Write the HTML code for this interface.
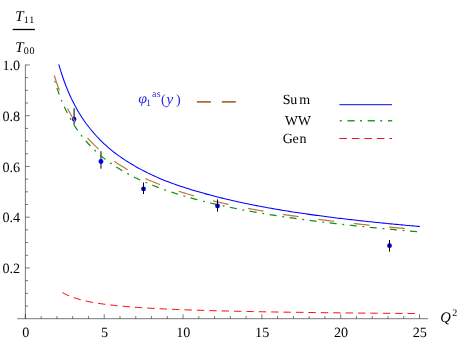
<!DOCTYPE html>
<html><head><meta charset="utf-8"><style>
html,body{margin:0;padding:0;background:#fff;}
svg{display:block;will-change:transform}
text{font-family:"Liberation Serif",serif;text-rendering:geometricPrecision}
</style></head><body>
<svg width="463" height="343" viewBox="0 0 463 343" font-size="14.2" fill="#000">
<rect width="463" height="343" fill="#fff"/>
<path d="M17.2 318.7 H428 M25.4 318.7 V64.65 M25.40 318.70 v-4.5 M41.16 318.70 v-2.7 M56.93 318.70 v-2.7 M72.69 318.70 v-2.7 M88.46 318.70 v-2.7 M104.22 318.70 v-4.5 M119.99 318.70 v-2.7 M135.75 318.70 v-2.7 M151.52 318.70 v-2.7 M167.28 318.70 v-2.7 M183.05 318.70 v-4.5 M198.82 318.70 v-2.7 M214.58 318.70 v-2.7 M230.34 318.70 v-2.7 M246.11 318.70 v-2.7 M261.88 318.70 v-4.5 M277.64 318.70 v-2.7 M293.40 318.70 v-2.7 M309.17 318.70 v-2.7 M324.94 318.70 v-2.7 M340.70 318.70 v-4.5 M356.46 318.70 v-2.7 M372.23 318.70 v-2.7 M388.00 318.70 v-2.7 M403.76 318.70 v-2.7 M419.52 318.70 v-4.5 M25.40 306.01 h2.6 M25.40 293.32 h2.6 M25.40 280.64 h2.6 M25.40 267.95 h4.4 M25.40 255.26 h2.6 M25.40 242.57 h2.6 M25.40 229.89 h2.6 M25.40 217.20 h4.4 M25.40 204.51 h2.6 M25.40 191.82 h2.6 M25.40 179.14 h2.6 M25.40 166.45 h4.4 M25.40 153.76 h2.6 M25.40 141.07 h2.6 M25.40 128.39 h2.6 M25.40 115.70 h4.4 M25.40 103.01 h2.6 M25.40 90.32 h2.6 M25.40 77.64 h2.6 M25.40 64.95 h4.4" stroke="#111" stroke-width="0.56" fill="none"/>
<g><text x="25.70" y="336.6" text-anchor="middle">0</text><text x="104.52" y="336.6" text-anchor="middle">5</text><text x="183.35" y="336.6" text-anchor="middle">10</text><text x="262.18" y="336.6" text-anchor="middle">15</text><text x="341.00" y="336.6" text-anchor="middle">20</text><text x="419.82" y="336.6" text-anchor="middle">25</text><text x="20.2" y="273.00" text-anchor="end">0.2</text><text x="20.2" y="222.25" text-anchor="end">0.4</text><text x="20.2" y="171.50" text-anchor="end">0.6</text><text x="20.2" y="120.75" text-anchor="end">0.8</text><text x="20.2" y="70.00" text-anchor="end">1.0</text></g>
<line x1="74.10" y1="108.30" x2="74.10" y2="124.60" stroke="#000" stroke-width="1"/><circle cx="74.10" cy="119.10" r="2.4" fill="#0000f0"/>
<line x1="100.97" y1="151.20" x2="100.97" y2="168.70" stroke="#000" stroke-width="1"/><circle cx="100.97" cy="161.50" r="2.4" fill="#0000f0"/>

<path d="M62.50 292.57 L64.29 293.57 L66.09 294.48 L67.88 295.32 L69.68 296.09 L71.47 296.80 L73.27 297.46 L75.06 298.07 L76.86 298.64 L78.65 299.17 L80.44 299.67 L82.24 300.14 L84.03 300.58 L85.83 300.99 L87.62 301.38 L89.42 301.75 L91.21 302.10 L93.01 302.44 L94.80 302.75 L96.59 303.06 L98.39 303.34 L100.18 303.62 L101.98 303.88 L103.77 304.13 L105.57 304.37 L107.36 304.60 L109.16 304.82 L110.95 305.03 L112.75 305.24 L114.54 305.43 L116.33 305.62 L118.13 305.80 L119.92 305.98 L121.72 306.15 L123.51 306.31 L125.31 306.47 L127.10 306.62 L128.90 306.77 L130.69 306.91 L132.48 307.05 L134.28 307.18 L136.07 307.31 L137.87 307.44 L139.66 307.56 L141.46 307.68 L143.25 307.80 L145.05 307.91 L146.84 308.02 L148.63 308.12 L150.43 308.23 L152.22 308.33 L154.02 308.43 L155.81 308.52 L157.61 308.62 L159.40 308.71 L161.20 308.80 L162.99 308.88 L164.78 308.97 L166.58 309.05 L168.37 309.13 L170.17 309.21 L171.96 309.29 L173.76 309.36 L175.55 309.44 L177.35 309.51 L179.14 309.58 L180.94 309.65 L182.73 309.72 L184.52 309.79 L186.32 309.85 L188.11 309.91 L189.91 309.98 L191.70 310.04 L193.50 310.10 L195.29 310.16 L197.09 310.22 L198.88 310.27 L200.67 310.33 L202.47 310.38 L204.26 310.44 L206.06 310.49 L207.85 310.54 L209.65 310.59 L211.44 310.64 L213.24 310.69 L215.03 310.74 L216.82 310.79 L218.62 310.83 L220.41 310.88 L222.21 310.93 L224.00 310.97 L225.80 311.01 L227.59 311.06 L229.39 311.10 L231.18 311.14 L232.97 311.18 L234.77 311.22 L236.56 311.26 L238.36 311.30 L240.15 311.34 L241.95 311.38 L243.74 311.42 L245.54 311.45 L247.33 311.49 L249.13 311.53 L250.92 311.56 L252.71 311.60 L254.51 311.63 L256.30 311.66 L258.10 311.70 L259.89 311.73 L261.69 311.76 L263.48 311.80 L265.28 311.83 L267.07 311.86 L268.86 311.89 L270.66 311.92 L272.45 311.95 L274.25 311.98 L276.04 312.01 L277.84 312.04 L279.63 312.07 L281.43 312.10 L283.22 312.12 L285.01 312.15 L286.81 312.18 L288.60 312.21 L290.40 312.23 L292.19 312.26 L293.99 312.28 L295.78 312.31 L297.58 312.34 L299.37 312.36 L301.16 312.39 L302.96 312.41 L304.75 312.43 L306.55 312.46 L308.34 312.48 L310.14 312.51 L311.93 312.53 L313.73 312.55 L315.52 312.57 L317.32 312.60 L319.11 312.62 L320.90 312.64 L322.70 312.66 L324.49 312.68 L326.29 312.71 L328.08 312.73 L329.88 312.75 L331.67 312.77 L333.47 312.79 L335.26 312.81 L337.05 312.83 L338.85 312.85 L340.64 312.87 L342.44 312.89 L344.23 312.91 L346.03 312.93 L347.82 312.94 L349.62 312.96 L351.41 312.98 L353.20 313.00 L355.00 313.02 L356.79 313.04 L358.59 313.05 L360.38 313.07 L362.18 313.09 L363.97 313.11 L365.77 313.12 L367.56 313.14 L369.35 313.16 L371.15 313.17 L372.94 313.19 L374.74 313.21 L376.53 313.22 L378.33 313.24 L380.12 313.26 L381.92 313.27 L383.71 313.29 L385.51 313.30 L387.30 313.32 L389.09 313.33 L390.89 313.35 L392.68 313.36 L394.48 313.38 L396.27 313.39 L398.07 313.41 L399.86 313.42 L401.66 313.44 L403.45 313.45 L405.24 313.47 L407.04 313.48 L408.83 313.49 L410.63 313.51 L412.42 313.52 L414.22 313.53 L416.01 313.55 L417.81 313.56 L419.60 313.57" stroke="#ff0000" stroke-width="1.0" fill="none" stroke-dasharray="7.4 5"/>
<path d="M54.60 80.52 L56.44 86.43 L58.27 91.83 L60.11 96.80 L61.94 101.38 L63.78 105.63 L65.61 109.59 L67.45 113.31 L69.29 116.82 L71.12 120.11 L72.96 123.22 L74.79 126.15 L76.63 128.94 L78.46 131.58 L80.30 134.09 L82.14 136.49 L83.97 138.77 L85.81 140.95 L87.64 143.02 L89.48 145.01 L91.31 146.92 L93.15 148.75 L94.98 150.51 L96.82 152.21 L98.66 153.85 L100.49 155.42 L102.33 156.94 L104.16 158.40 L106.00 159.82 L107.83 161.19 L109.67 162.52 L111.51 163.81 L113.34 165.06 L115.18 166.27 L117.01 167.45 L118.85 168.60 L120.68 169.71 L122.52 170.80 L124.36 171.85 L126.19 172.88 L128.03 173.89 L129.86 174.87 L131.70 175.82 L133.53 176.76 L135.37 177.67 L137.21 178.56 L139.04 179.43 L140.88 180.28 L142.71 181.10 L144.55 181.91 L146.38 182.71 L148.22 183.48 L150.06 184.24 L151.89 184.99 L153.73 185.72 L155.56 186.43 L157.40 187.13 L159.23 187.82 L161.07 188.50 L162.91 189.16 L164.74 189.81 L166.58 190.45 L168.41 191.08 L170.25 191.70 L172.08 192.30 L173.92 192.90 L175.75 193.48 L177.59 194.06 L179.43 194.63 L181.26 195.18 L183.10 195.73 L184.93 196.27 L186.77 196.80 L188.60 197.33 L190.44 197.84 L192.28 198.35 L194.11 198.85 L195.95 199.34 L197.78 199.83 L199.62 200.31 L201.45 200.78 L203.29 201.24 L205.13 201.70 L206.96 202.15 L208.80 202.60 L210.63 203.04 L212.47 203.47 L214.30 203.90 L216.14 204.32 L217.98 204.74 L219.81 205.15 L221.65 205.56 L223.48 205.96 L225.32 206.36 L227.15 206.75 L228.99 207.14 L230.83 207.52 L232.66 207.90 L234.50 208.27 L236.33 208.64 L238.17 209.01 L240.00 209.37 L241.84 209.72 L243.67 210.06 L245.51 210.41 L247.35 210.75 L249.18 211.08 L251.02 211.41 L252.85 211.74 L254.69 212.07 L256.52 212.39 L258.36 212.70 L260.20 213.02 L262.03 213.33 L263.87 213.64 L265.70 213.94 L267.54 214.24 L269.37 214.54 L271.21 214.84 L273.05 215.13 L274.88 215.42 L276.72 215.70 L278.55 215.99 L280.39 216.27 L282.22 216.55 L284.06 216.82 L285.90 217.09 L287.73 217.36 L289.57 217.63 L291.40 217.90 L293.24 218.16 L295.07 218.42 L296.91 218.68 L298.75 218.93 L300.58 219.18 L302.42 219.43 L304.25 219.68 L306.09 219.93 L307.92 220.17 L309.76 220.41 L311.59 220.65 L313.43 220.89 L315.27 221.12 L317.10 221.35 L318.94 221.58 L320.77 221.81 L322.61 222.04 L324.44 222.26 L326.28 222.49 L328.12 222.71 L329.95 222.93 L331.79 223.15 L333.62 223.36 L335.46 223.58 L337.29 223.79 L339.13 224.00 L340.97 224.21 L342.80 224.42 L344.64 224.62 L346.47 224.83 L348.31 225.03 L350.14 225.23 L351.98 225.43 L353.82 225.63 L355.65 225.82 L357.49 226.02 L359.32 226.21 L361.16 226.40 L362.99 226.59 L364.83 226.78 L366.67 226.97 L368.50 227.16 L370.34 227.34 L372.17 227.53 L374.01 227.71 L375.84 227.89 L377.68 228.07 L379.52 228.25 L381.35 228.43 L383.19 228.60 L385.02 228.78 L386.86 228.95 L388.69 229.12 L390.53 229.30 L392.36 229.47 L394.20 229.64 L396.04 229.80 L397.87 229.97 L399.71 230.14 L401.54 230.30 L403.38 230.47 L405.21 230.64 L407.05 230.80 L408.89 230.97 L410.72 231.13 L412.56 231.30 L414.39 231.46 L416.23 231.62 L418.06 231.78 L419.90 231.94" stroke="#109010" stroke-width="1.2" fill="none" stroke-dasharray="1.9 5.55 7.0 5.75" stroke-dashoffset="-0.3"/>
<path d="M54.30 75.46 L56.14 81.19 L57.97 86.47 L59.81 91.35 L61.65 95.89 L63.49 100.12 L65.32 104.08 L67.16 107.79 L69.00 111.28 L70.83 114.58 L72.67 117.69 L74.51 120.65 L76.35 123.45 L78.18 126.12 L80.02 128.66 L81.86 131.08 L83.69 133.40 L85.53 135.61 L87.37 137.74 L89.21 139.78 L91.04 141.74 L92.88 143.62 L94.72 145.44 L96.56 147.18 L98.39 148.87 L100.23 150.50 L102.07 152.07 L103.90 153.59 L105.74 155.06 L107.58 156.49 L109.42 157.87 L111.25 159.21 L113.09 160.51 L114.93 161.78 L116.76 163.00 L118.60 164.20 L120.44 165.36 L122.28 166.49 L124.11 167.59 L125.95 168.66 L127.79 169.70 L129.62 170.72 L131.46 171.72 L133.30 172.69 L135.14 173.63 L136.97 174.56 L138.81 175.46 L140.65 176.34 L142.48 177.21 L144.32 178.05 L146.16 178.88 L148.00 179.69 L149.83 180.48 L151.67 181.27 L153.51 182.04 L155.35 182.79 L157.18 183.53 L159.02 184.26 L160.86 184.97 L162.69 185.66 L164.53 186.35 L166.37 187.02 L168.21 187.68 L170.04 188.33 L171.88 188.97 L173.72 189.60 L175.55 190.21 L177.39 190.82 L179.23 191.41 L181.07 192.00 L182.90 192.58 L184.74 193.14 L186.58 193.70 L188.41 194.25 L190.25 194.79 L192.09 195.32 L193.93 195.85 L195.76 196.36 L197.60 196.87 L199.44 197.37 L201.27 197.87 L203.11 198.35 L204.95 198.83 L206.79 199.31 L208.62 199.77 L210.46 200.23 L212.30 200.69 L214.14 201.14 L215.97 201.58 L217.81 202.01 L219.65 202.44 L221.48 202.87 L223.32 203.29 L225.16 203.70 L227.00 204.11 L228.83 204.50 L230.67 204.90 L232.51 205.29 L234.34 205.67 L236.18 206.05 L238.02 206.42 L239.86 206.80 L241.69 207.16 L243.53 207.52 L245.37 207.88 L247.20 208.23 L249.04 208.58 L250.88 208.93 L252.72 209.27 L254.55 209.61 L256.39 209.94 L258.23 210.27 L260.06 210.60 L261.90 210.92 L263.74 211.24 L265.58 211.55 L267.41 211.87 L269.25 212.18 L271.09 212.48 L272.93 212.78 L274.76 213.08 L276.60 213.38 L278.44 213.67 L280.27 213.96 L282.11 214.25 L283.95 214.54 L285.79 214.82 L287.62 215.10 L289.46 215.37 L291.30 215.65 L293.13 215.92 L294.97 216.19 L296.81 216.45 L298.65 216.71 L300.48 216.97 L302.32 217.22 L304.16 217.48 L305.99 217.73 L307.83 217.98 L309.67 218.22 L311.51 218.46 L313.34 218.70 L315.18 218.94 L317.02 219.18 L318.85 219.42 L320.69 219.65 L322.53 219.88 L324.37 220.11 L326.20 220.33 L328.04 220.56 L329.88 220.78 L331.72 221.00 L333.55 221.22 L335.39 221.44 L337.23 221.65 L339.06 221.87 L340.90 222.08 L342.74 222.29 L344.58 222.50 L346.41 222.70 L348.25 222.91 L350.09 223.11 L351.92 223.31 L353.76 223.51 L355.60 223.71 L357.44 223.91 L359.27 224.10 L361.11 224.30 L362.95 224.49 L364.78 224.68 L366.62 224.87 L368.46 225.06 L370.30 225.24 L372.13 225.43 L373.97 225.61 L375.81 225.80 L377.64 225.98 L379.48 226.16 L381.32 226.34 L383.16 226.51 L384.99 226.69 L386.83 226.86 L388.67 227.04 L390.51 227.21 L392.34 227.38 L394.18 227.55 L396.02 227.72 L397.85 227.88 L399.69 228.05 L401.53 228.21 L403.37 228.38 L405.20 228.54 L407.04 228.70 L408.88 228.86 L410.71 229.02 L412.55 229.18 L414.39 229.34 L416.23 229.49 L418.06 229.65 L419.90 229.80" stroke="#b87840" stroke-width="1.2" fill="none" stroke-dasharray="15.8 19.85"/>
<path d="M58.75 64.31 L60.56 70.41 L62.38 76.01 L64.19 81.20 L66.01 86.02 L67.82 90.51 L69.64 94.71 L71.45 98.65 L73.27 102.35 L75.08 105.84 L76.90 109.14 L78.71 112.26 L80.53 115.22 L82.34 118.03 L84.16 120.71 L85.97 123.26 L87.79 125.69 L89.60 128.02 L91.42 130.27 L93.23 132.43 L95.05 134.51 L96.86 136.50 L98.68 138.42 L100.49 140.27 L102.31 142.05 L104.12 143.77 L105.94 145.43 L107.75 147.04 L109.57 148.59 L111.38 150.09 L113.19 151.55 L115.01 152.96 L116.82 154.33 L118.64 155.65 L120.45 156.94 L122.27 158.20 L124.08 159.42 L125.90 160.60 L127.71 161.76 L129.53 162.88 L131.34 163.99 L133.16 165.07 L134.97 166.13 L136.79 167.17 L138.60 168.18 L140.42 169.16 L142.23 170.13 L144.05 171.07 L145.86 171.99 L147.68 172.89 L149.49 173.77 L151.31 174.64 L153.12 175.48 L154.94 176.31 L156.75 177.12 L158.57 177.92 L160.38 178.70 L162.19 179.44 L164.01 180.17 L165.82 180.89 L167.64 181.59 L169.45 182.28 L171.27 182.96 L173.08 183.62 L174.90 184.27 L176.71 184.91 L178.53 185.54 L180.34 186.16 L182.16 186.77 L183.97 187.37 L185.79 187.95 L187.60 188.53 L189.42 189.10 L191.23 189.66 L193.05 190.21 L194.86 190.75 L196.68 191.29 L198.49 191.81 L200.31 192.33 L202.12 192.85 L203.94 193.37 L205.75 193.87 L207.57 194.37 L209.38 194.86 L211.20 195.35 L213.01 195.82 L214.82 196.29 L216.64 196.76 L218.45 197.22 L220.27 197.67 L222.08 198.12 L223.90 198.56 L225.71 198.99 L227.53 199.42 L229.34 199.85 L231.16 200.27 L232.97 200.68 L234.79 201.09 L236.60 201.49 L238.42 201.89 L240.23 202.28 L242.05 202.67 L243.86 203.05 L245.68 203.43 L247.49 203.81 L249.31 204.18 L251.12 204.54 L252.94 204.90 L254.75 205.26 L256.57 205.61 L258.38 205.96 L260.20 206.31 L262.01 206.65 L263.83 206.99 L265.64 207.32 L267.45 207.65 L269.27 207.98 L271.08 208.30 L272.90 208.62 L274.71 208.94 L276.53 209.25 L278.34 209.56 L280.16 209.87 L281.97 210.18 L283.79 210.48 L285.60 210.78 L287.42 211.07 L289.23 211.37 L291.05 211.66 L292.86 211.94 L294.68 212.23 L296.49 212.51 L298.31 212.79 L300.12 213.07 L301.94 213.33 L303.75 213.59 L305.57 213.85 L307.38 214.11 L309.20 214.36 L311.01 214.62 L312.83 214.87 L314.64 215.11 L316.46 215.36 L318.27 215.60 L320.08 215.84 L321.90 216.08 L323.71 216.32 L325.53 216.56 L327.34 216.79 L329.16 217.02 L330.97 217.25 L332.79 217.48 L334.60 217.70 L336.42 217.92 L338.23 218.15 L340.05 218.36 L341.86 218.58 L343.68 218.80 L345.49 219.01 L347.31 219.22 L349.12 219.44 L350.94 219.64 L352.75 219.85 L354.57 220.06 L356.38 220.26 L358.20 220.46 L360.01 220.67 L361.83 220.86 L363.64 221.06 L365.46 221.26 L367.27 221.45 L369.08 221.65 L370.90 221.84 L372.71 222.03 L374.53 222.22 L376.34 222.41 L378.16 222.59 L379.97 222.78 L381.79 222.96 L383.60 223.14 L385.42 223.32 L387.23 223.50 L389.05 223.68 L390.86 223.86 L392.68 224.03 L394.49 224.21 L396.31 224.38 L398.12 224.55 L399.94 224.73 L401.75 224.89 L403.57 225.06 L405.38 225.23 L407.20 225.40 L409.01 225.56 L410.83 225.73 L412.64 225.89 L414.46 226.06 L416.27 226.22 L418.09 226.38 L419.90 226.54" stroke="#0000ff" stroke-width="1.05" fill="none"/>
<circle cx="143.50" cy="188.95" r="2.4" fill="#0000f0"/><line x1="143.50" y1="182.50" x2="143.50" y2="194.00" stroke="#000" stroke-width="1"/>
<circle cx="217.50" cy="205.90" r="2.4" fill="#0000f0"/><line x1="217.50" y1="199.40" x2="217.50" y2="211.60" stroke="#000" stroke-width="1"/>
<circle cx="389.50" cy="245.70" r="2.4" fill="#0000f0"/><line x1="389.50" y1="240.00" x2="389.50" y2="251.60" stroke="#000" stroke-width="1"/>

<!-- title -->
<text x="15.2" y="20.9" font-style="italic" font-size="15">T</text>
<text x="23.7" y="22.9" font-size="10" letter-spacing="0.9">11</text>
<line x1="12.7" y1="29.5" x2="34.9" y2="29.5" stroke="#000" stroke-width="1.3"/>
<text x="15.2" y="52.1" font-style="italic" font-size="15">T</text>
<text x="23.7" y="54.1" font-size="10" letter-spacing="0.9">00</text>
<!-- Q2 -->
<text x="440.2" y="322.3" font-style="italic" font-size="14.6">Q</text>
<text x="452.3" y="316.3" font-size="10">2</text>
<!-- legend left -->
<g fill="#2020e0">
<text transform="translate(138.3,103.3) scale(1.12,1)" font-style="italic" fill="#2828e0">φ</text>
<text x="146.0" y="105.9" font-size="10" fill="#2828e0">1</text>
<text x="151.9" y="96.8" font-size="10" letter-spacing="0.3" fill="#2828e0">as</text>
<text x="161" y="103.5" fill="#2828e0">(</text>
<text x="166.5" y="103.5" font-style="italic" font-size="15" fill="#2828e0">y</text>
<text x="176" y="103.5" fill="#2828e0">)</text>
</g>
<path d="M196.9 101.8 H210.9 M221.8 101.8 H235.8" stroke="#a87038" stroke-width="1.7"/>
<!-- legend right -->
<text x="282.8" y="103.55" font-size="14">S<tspan dx="-0.43">u</tspan><tspan dx="2.05">m</tspan></text>
<text x="284.9" y="125.0" font-size="13.6" letter-spacing="0.25">WW</text>
<text x="282.8" y="142.65" font-size="14">G<tspan dx="-0.32">e</tspan><tspan dx="0.57">n</tspan></text>
<path d="M339.4 104.65 H392" stroke="#3838f0" stroke-width="1.25"/>
<path d="M339.8 120.75 H392.2" stroke="#2c9c2c" stroke-width="1.3" stroke-dasharray="2 5.7 7.2 5.3"/>
<path d="M339.4 138.5 H392" stroke="#f01020" stroke-width="1.1" stroke-dasharray="7.5 5"/>
</svg>
</body></html>
